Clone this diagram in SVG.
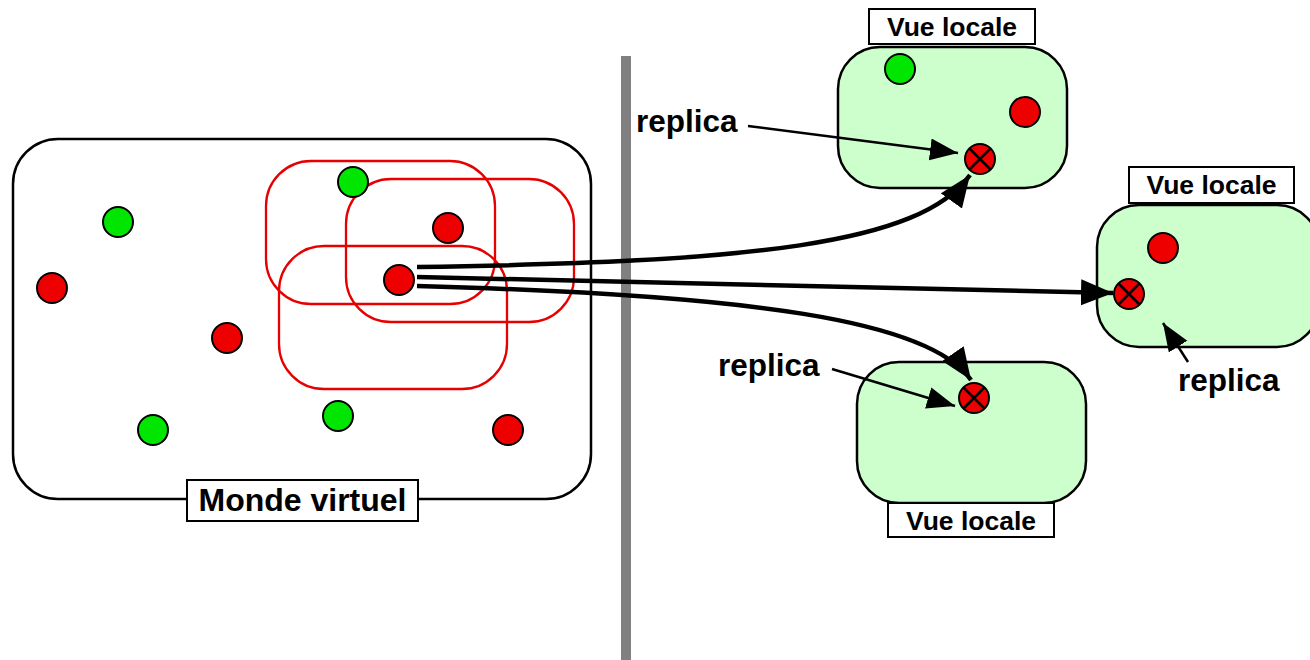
<svg xmlns="http://www.w3.org/2000/svg" width="1310" height="660" viewBox="0 0 1310 660">
<defs>
<style>
.bg{fill:#fff}
.world{fill:#fff;stroke:#000;stroke-width:2.5}
.aoi{fill:none;stroke:#e60000;stroke-width:2.3}
.view{fill:#ccffcc;stroke:#000;stroke-width:2.5}
.lbl{fill:#fff;stroke:#000;stroke-width:2}
.g{fill:#00e600;stroke:#000;stroke-width:2}
.r{fill:#ee0000;stroke:#000;stroke-width:2}
.x{stroke:#000;stroke-width:2.5}
.t{font-family:"Liberation Sans",Arial,sans-serif;font-weight:bold;fill:#000}
.thick{fill:none;stroke:#000;stroke-width:4.5;marker-end:url(#big)}
.thin{fill:none;stroke:#000;stroke-width:2.5;marker-end:url(#small)}
</style>
<marker id="big" markerUnits="userSpaceOnUse" markerWidth="34" markerHeight="28" refX="32" refY="13" orient="auto">
<path d="M0,0 L32,13 L0,26 z" fill="#000"/>
</marker>
<marker id="small" markerUnits="userSpaceOnUse" markerWidth="30" markerHeight="24" refX="28" refY="11" orient="auto">
<path d="M0,0 L28,11 L0,22 z" fill="#000"/>
</marker>
</defs>
<rect class="bg" x="0" y="0" width="1310" height="660"/>

<g id="separator">
<rect x="621" y="56" width="10" height="604" fill="#808080"/>
</g>

<g id="monde-virtuel">
<rect class="world" x="13" y="139" width="578" height="360" rx="45" ry="45"/>
<rect class="lbl" x="187" y="480" width="231" height="41"/>
<text class="t" x="302.5" y="511" font-size="32" text-anchor="middle">Monde virtuel</text>
</g>

<g id="zones">
<rect class="aoi" x="266" y="161" width="229" height="143" rx="45" ry="45"/>
<rect class="aoi" x="346" y="179" width="228" height="143" rx="45" ry="45"/>
<rect class="aoi" x="279" y="246" width="228" height="143" rx="45" ry="45"/>
</g>

<g id="entites-monde">
<circle class="g" cx="118" cy="222" r="15"/>
<circle class="r" cx="52" cy="288" r="15"/>
<circle class="r" cx="227" cy="338" r="15"/>
<circle class="g" cx="153" cy="430" r="15"/>
<circle class="g" cx="338" cy="416" r="15"/>
<circle class="r" cx="508" cy="430" r="15"/>
<circle class="g" cx="353" cy="182" r="15"/>
<circle class="r" cx="448" cy="228" r="15"/>
<circle class="r" cx="399" cy="280" r="15"/>
</g>

<g id="vue-locale-haut">
<rect class="view" x="838" y="47" width="229" height="141" rx="42" ry="42"/>
<rect class="lbl" x="869" y="9" width="166" height="35"/>
<text class="t" x="952" y="35.5" font-size="26.5" text-anchor="middle">Vue locale</text>
<circle class="g" cx="900" cy="69" r="15"/>
<circle class="r" cx="1025" cy="112" r="15"/>
<circle class="r" cx="980" cy="159" r="15"/>
<path class="x" d="M969.5,148.5 L990.5,169.5 M990.5,148.5 L969.5,169.5"/>
</g>

<g id="vue-locale-droite">
<rect class="view" x="1097" y="205" width="222" height="142" rx="42" ry="42"/>
<rect class="lbl" x="1129" y="167" width="165" height="36"/>
<text class="t" x="1211.5" y="194" font-size="26.5" text-anchor="middle">Vue locale</text>
<circle class="r" cx="1163" cy="248" r="15"/>
<circle class="r" cx="1129" cy="294" r="15"/>
<path class="x" d="M1118.5,283.5 L1139.5,304.5 M1139.5,283.5 L1118.5,304.5"/>
</g>

<g id="vue-locale-bas">
<rect class="view" x="857" y="362" width="229" height="141" rx="42" ry="42"/>
<rect class="lbl" x="888" y="503" width="166" height="34"/>
<text class="t" x="971" y="529.5" font-size="26.5" text-anchor="middle">Vue locale</text>
<circle class="r" cx="974" cy="398" r="15"/>
<path class="x" d="M963.5,387.5 L984.5,408.5 M984.5,387.5 L963.5,408.5"/>
</g>

<g id="labels">
<text class="t" x="636" y="132" font-size="31.5">replica</text>
<text class="t" x="718" y="376" font-size="31.5">replica</text>
<text class="t" x="1178" y="391" font-size="31.5">replica</text>
</g>

<g id="connectors">
<path class="thick" d="M417,267 C750,262 920,245 970,175"/>
<path class="thick" d="M417,277 L1113,293"/>
<path class="thick" d="M417,286 C750,295 930,320 971,380"/>
<path class="thin" d="M748,126 L958,153"/>
<path class="thin" d="M832,369 L955,406"/>
<path class="thin" d="M1188,362 L1163,323"/>
</g>
</svg>
